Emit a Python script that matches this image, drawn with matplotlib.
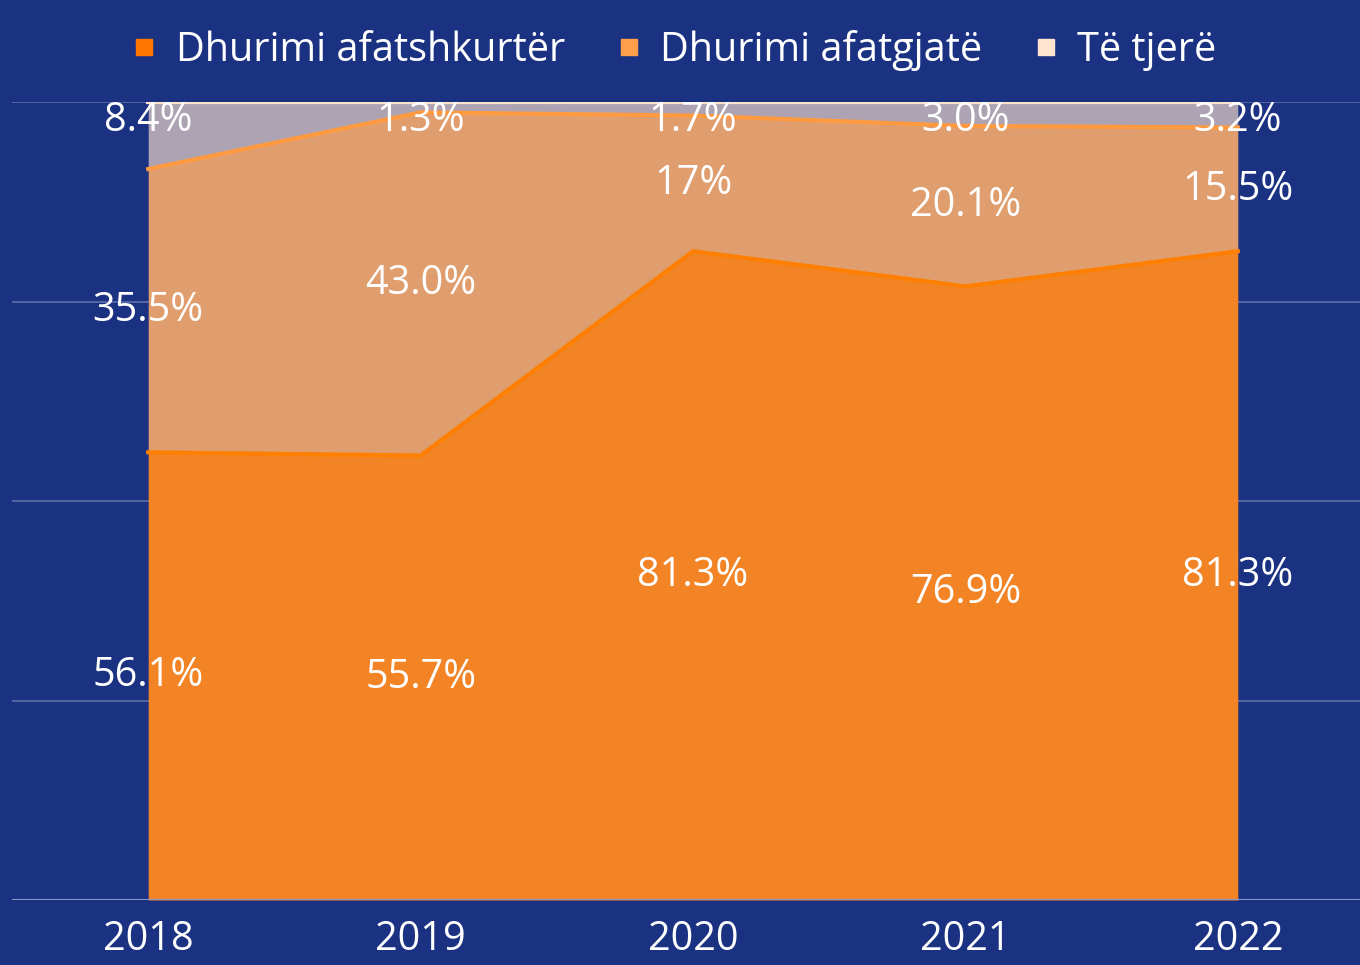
import numpy as np
import matplotlib
matplotlib.use("Agg")
import matplotlib.pyplot as plt
from matplotlib.lines import Line2D

plt.rcParams['font.family'] = ['Open Sans', 'DejaVu Sans']

# data
years = ["2018", "2019", "2020", "2021", "2022"]
short_term = [56.1, 55.7, 81.3, 76.9, 81.3]   # Dhurimi afatshkurtër
long_term = [35.5, 43.0, 17.0, 20.1, 15.5]    # Dhurimi afatgjatë
others = [8.4, 1.3, 1.7, 3.0, 3.2]            # Të tjerë
short_lbl = ["56.1%", "55.7%", "81.3%", "76.9%", "81.3%"]
long_lbl = ["35.5%", "43.0%", "17%", "20.1%", "15.5%"]
other_lbl = ["8.4%", "1.3%", "1.7%", "3.0%", "3.2%"]
series_names = ["Dhurimi afatshkurtër", "Dhurimi afatgjatë", "Të tjerë"]

bg = "#1b3282"
x = np.arange(len(years))
s1 = np.array(short_term)
s2 = s1 + np.array(long_term)
s3 = s2 + np.array(others)

fig = plt.figure(figsize=(13.6, 9.65), dpi=100, facecolor=bg)
ax = fig.add_axes([12 / 1360, 65 / 965, 1362 / 1360, 798 / 965])
ax.set_facecolor(bg)

# gridlines
for g in [25, 50, 75, 100]:
    ax.axhline(g, color="#5e6fa8", lw=1.2, zorder=0)

ax.fill_between(x, 0, s1, color="#f28425", lw=0, zorder=1)
ax.fill_between(x, s1, s2, color="#e09e6e", lw=0, zorder=1)
ax.fill_between(x, s2, s3, color="#ada3b3", lw=0, zorder=1)
ax.plot(x, s1, color="#ff7f00", lw=3, zorder=2)
ax.plot(x, s2, color="#ff9a40", lw=3, zorder=2)
ax.plot(x, s3, color="#ffe3cc", lw=3, zorder=2)
ax.axhline(0, color="#8c98c4", lw=1.5, zorder=3)

fs = 28.5
for i in range(len(years)):
    ax.text(x[i], s1[i] / 2, short_lbl[i], color="white", fontsize=fs,
            ha="center", va="center", zorder=4)
    ax.text(x[i], (s1[i] + s2[i]) / 2, long_lbl[i], color="white", fontsize=fs,
            ha="center", va="center", zorder=4)
    ax.text(x[i], 97.7, other_lbl[i], color="white", fontsize=fs,
            ha="center", va="center", zorder=4)

ax.set_xlim(-0.5, 4.5)
ax.set_ylim(0, 100)
ax.set_xticks(x)
ax.set_xticklabels(years, color="white", fontsize=fs)
ax.tick_params(axis="x", length=0, pad=14)
ax.set_yticks([])
for sp in ax.spines.values():
    sp.set_visible(False)

handles = [Line2D([], [], marker="s", ls="", markersize=11, color=c)
           for c in ["#ff7700", "#ff9f4a", "#ffe4cf"]]
leg = fig.legend(handles, series_names, loc="center", ncol=3,
                 bbox_to_anchor=(0.496, 0.948), frameon=False, fontsize=fs,
                 handlelength=0.6, handletextpad=0.5, columnspacing=1.3)
for t in leg.get_texts():
    t.set_color("white")

fig.savefig("out.png", dpi=100, facecolor=bg)
